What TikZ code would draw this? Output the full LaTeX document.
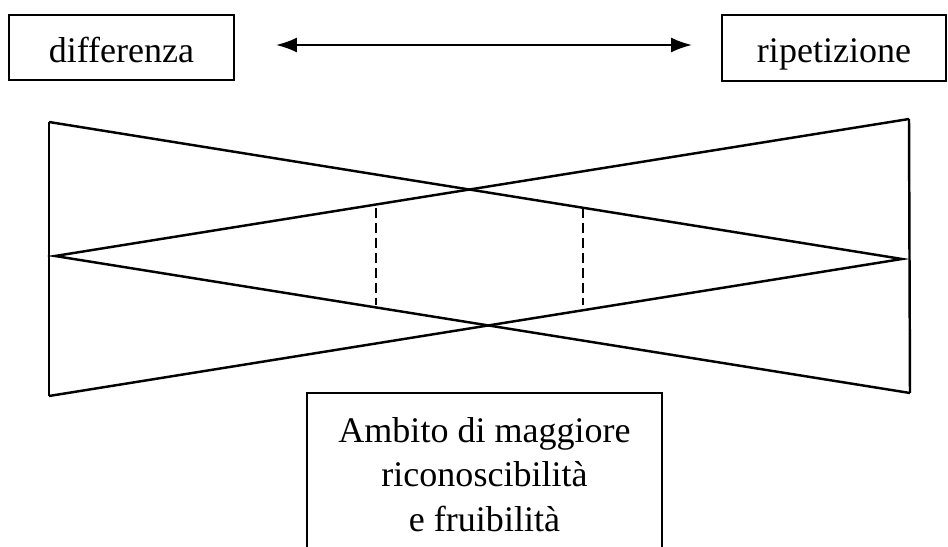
\documentclass[tikz,border=0pt]{standalone}
\usepackage{fontspec}
\setmainfont{Liberation Serif}
\usetikzlibrary{arrows.meta}
\begin{document}
\begin{tikzpicture}[x=0.02cm, y=-0.02cm, line width=1.4pt,
		box/.style={draw, inner sep=0pt, font=\fontsize{20.5}{25.5}\selectfont},
		label box/.style={box, minimum height=1.3cm, text height=17pt, text depth=0pt}]
	\useasboundingbox (0, 0) rectangle (948, 547);
	\node[label box, minimum width=4.5cm] (dif) at (121.5, 47.5) {differenza};
	\node[label box, minimum width=4.48cm, minimum height=1.32cm] (rip) at (834, 48) {ripetizione};
	\coordinate (al) at (276, 45);
	\coordinate (ar) at (692, 45);
	\draw[{Latex[length=0.42cm, width=0.3cm]}-{Latex[length=0.42cm, width=0.3cm]}, line width=1.2pt] (al) -- (ar);
	\coordinate (tl) at (49, 122);
	\coordinate (tr) at (909, 119);
	\coordinate (bl) at (49, 396);
	\coordinate (br) at (910, 393);
	\coordinate (la) at (55, 256);
	\coordinate (ra) at (902, 259);
	\draw (tl) -- (bl);
	\draw (tr) -- (br);
	\draw (tl) -- (ra) -- (bl);
	\draw (tr) -- (la) -- (br);
	\coordinate (d1t) at (376, 208);
	\coordinate (d1b) at (376, 305);
	\coordinate (d2t) at (583, 208);
	\coordinate (d2b) at (583, 305);
	\draw[dash pattern=on 5.7pt off 2.8pt] (d1t) -- (d1b);
	\draw[dash pattern=on 5.7pt off 2.8pt] (d2t) -- (d2b);
	\node[box, anchor=north, minimum width=7.1cm, inner ysep=13.6pt, align=center] (amb) at (484.5, 392) {Ambito di maggiore\\riconoscibilità\\e fruibilità};
\end{tikzpicture}
\end{document}
